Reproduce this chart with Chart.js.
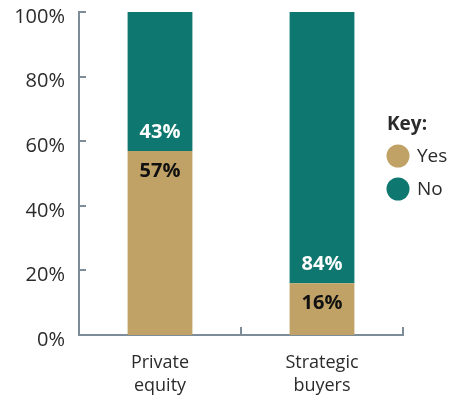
<!DOCTYPE html>
<html>
<head>
<meta charset="utf-8">
<script src="https://cdn.jsdelivr.net/npm/chart.js@4"></script>
<style>
  html, body { margin: 0; padding: 0; background: #fff; }
  #wrap { width: 451px; height: 398px; }
</style>
</head>
<body>
<div id="wrap"><canvas id="myChart"></canvas></div>
<script>
const buyers = [["Private", "equity"], ["Strategic", "buyers"]];
const yesShare = [57, 16];
const noShare = [43, 84];
const yTicks = [0, 20, 40, 60, 80, 100];

const tan = "#c1a266";
const teal = "#0e776f";
const axisColor = "#7d8c99";
const textColor = "#2b2b2b";
const fontFamily = "'Open Sans', 'Noto Sans', sans-serif";

// short tick marks pointing into the plot
const innerTicks = {
  id: "innerTicks",
  afterDraw(chart) {
    const ctx = chart.ctx;
    const x = chart.scales.x, y = chart.scales.y;
    ctx.save();
    ctx.strokeStyle = axisColor;
    ctx.lineWidth = 2;
    ctx.beginPath();
    yTicks.forEach(v => {
      const py = Math.round(y.getPixelForValue(v));
      ctx.moveTo(y.right, py);
      ctx.lineTo(y.right + 7, py);
    });
    const step = x.getPixelForValue(1) - x.getPixelForValue(0);
    buyers.forEach((b, i) => {
      const px = Math.round(x.getPixelForValue(i) + step / 2);
      ctx.moveTo(px, x.top);
      ctx.lineTo(px, x.top - 8);
    });
    ctx.stroke();
    ctx.restore();
  }
};

// percentage labels either side of the Yes/No boundary
const segmentLabels = {
  id: "segmentLabels",
  afterDatasetsDraw(chart) {
    const ctx = chart.ctx;
    ctx.save();
    ctx.font = "bold 20px " + fontFamily;
    ctx.textAlign = "center";
    ctx.textBaseline = "middle";
    const yesMeta = chart.getDatasetMeta(0);
    const noMeta = chart.getDatasetMeta(1);
    yesMeta.data.forEach((bar, i) => {
      const edge = bar.y;
      ctx.fillStyle = "#111";
      ctx.fillText(yesShare[i] + "%", bar.x, edge + 20);
      ctx.fillStyle = "#fff";
      ctx.fillText(noShare[i] + "%", noMeta.data[i].x, edge - 19);
    });
    ctx.restore();
  }
};

// "Key:" legend with round swatches
const keyLegend = {
  id: "keyLegend",
  afterDraw(chart) {
    const ctx = chart.ctx;
    ctx.save();
    ctx.fillStyle = textColor;
    ctx.textBaseline = "middle";
    ctx.textAlign = "left";
    ctx.font = "bold 19px " + fontFamily;
    ctx.fillText("Key:", 387, 125);
    ctx.font = "19px " + fontFamily;
    chart.data.datasets.forEach((ds, i) => {
      const cy = 156 + i * 33;
      ctx.fillStyle = ds.backgroundColor;
      ctx.beginPath();
      ctx.arc(398, cy, 11.5, 0, Math.PI * 2);
      ctx.fill();
      ctx.fillStyle = textColor;
      ctx.fillText(ds.label, 417, cy + 1);
    });
    ctx.restore();
  }
};

new Chart("myChart", {
  type: "bar",
  data: {
    labels: buyers,
    datasets: [
      { label: "Yes", data: yesShare, backgroundColor: tan },
      { label: "No", data: noShare, backgroundColor: teal }
    ]
  },
  options: {
    responsive: true,
    maintainAspectRatio: false,
    animation: false,
    layout: { padding: { top: 12, right: 48, left: 0, bottom: 0 } },
    datasets: { bar: { categoryPercentage: 0.8, barPercentage: 0.5 } },
    scales: {
      x: {
        stacked: true,
        grid: { display: false },
        border: { color: axisColor, width: 2 },
        ticks: {
          color: textColor,
          font: { family: fontFamily, size: 18, lineHeight: 1.3 },
          padding: 8,
          maxRotation: 0
        },
        afterFit(scale) {
          scale.height = 63;
          scale.paddingLeft = 0;
          scale.paddingRight = 0;
        }
      },
      y: {
        stacked: true,
        min: 0,
        max: 100,
        afterBuildTicks(scale) { scale.ticks = yTicks.map(v => ({ value: v })); },
        grid: { display: false },
        border: { color: axisColor, width: 2 },
        ticks: {
          color: textColor,
          font: { family: fontFamily, size: 20 },
          padding: 6,
          labelOffset: 5,
          callback: v => v + "%"
        },
        afterFit(scale) {
          scale.width = 79;
          scale.paddingTop = 0;
          scale.paddingBottom = 0;
        }
      }
    },
    plugins: {
      legend: { display: false },
      tooltip: { enabled: false }
    }
  },
  plugins: [innerTicks, segmentLabels, keyLegend]
});
</script>
</body>
</html>
